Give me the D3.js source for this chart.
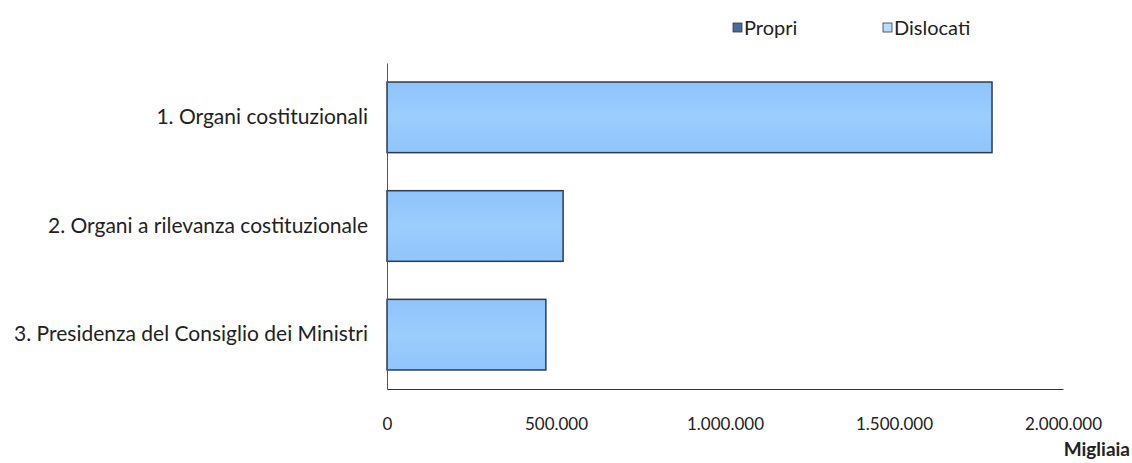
<!DOCTYPE html>
<html><head><meta charset="utf-8">
<script src="https://cdn.jsdelivr.net/npm/d3@7"></script>
<style>body{margin:0;background:#fff}svg{display:block}text{font-family:Lato,"Open Sans",sans-serif;fill:#222}</style>
</head><body><svg id="c" width="1132" height="463"></svg>
<script>
const categories = ["1. Organi costituzionali","2. Organi a rilevanza costituzionale","3. Presidenza del Consiglio dei Ministri"];
const propri = [0, 0, 0];
const dislocati = [1790000, 521000, 470000];
const seriesNames = ["Propri","Dislocati"];
const tickValues = [0, 500000, 1000000, 1500000, 2000000];
const tickLabels = ["0","500.000","1.000.000","1.500.000","2.000.000"];
const unitLabel = "Migliaia";

const svg = d3.select("#c");
const x0 = 387, x1 = 1063, yTop = 63, yBot = 389;
const x = d3.scaleLinear().domain([0, 2000000]).range([x0, x1]);
const y = d3.scaleBand().domain(categories).range([yTop, yBot]).paddingInner(0.35).paddingOuter(0.175);

const defs = svg.append("defs");
const g = defs.append("linearGradient").attr("id","bg").attr("x1","0").attr("x2","0").attr("y1","0").attr("y2","1");
g.append("stop").attr("offset","0").attr("stop-color","#8fc4fb");
g.append("stop").attr("offset","0.5").attr("stop-color","#9bcdfd");
g.append("stop").attr("offset","1").attr("stop-color","#90c5fb");

const data = categories.map((c,i)=>({c, p: propri[i], d: dislocati[i]}));

svg.append("g").selectAll("rect").data(data).join("rect")
  .attr("x", x(0)).attr("y", d=>y(d.c)).attr("width", d=>x(d.p)-x(0)).attr("height", y.bandwidth())
  .attr("fill","#4a6a9c");
svg.append("g").selectAll("rect").data(data).join("rect")
  .attr("x", d=>x(d.p)).attr("y", d=>y(d.c)).attr("width", d=>x(d.p+d.d)-x(d.p)).attr("height", y.bandwidth())
  .attr("fill","url(#bg)").attr("stroke","#2d3b4e").attr("stroke-width",1.5);

const xa = svg.append("g").attr("transform",`translate(0,${yBot})`)
  .call(d3.axisBottom(x).tickValues(tickValues).tickFormat((d,i)=>tickLabels[i]).tickSize(0).tickPadding(29));
xa.select(".domain").attr("stroke","#333").attr("stroke-width",1.2);
xa.selectAll("text").attr("font-size",17).attr("font-family","Lato,sans-serif").attr("fill","#333");

const ya = svg.append("g").attr("transform",`translate(${x0},0)`)
  .call(d3.axisLeft(y).tickSize(0).tickPadding(19));
ya.select(".domain").attr("stroke","#555").attr("stroke-width",1);
ya.selectAll("text").attr("font-size",21).attr("font-family","Lato,sans-serif").attr("fill","#222");

svg.append("text").attr("x",1130).attr("y",456).attr("text-anchor","end")
  .attr("font-size",19).attr("font-weight","bold").text(unitLabel);

const leg = [{n:seriesNames[0], c:"#4a6a9c", s:"#2d3b4e", x:733},{n:seriesNames[1], c:"#b8dcff", s:"#2d3b4e", x:883}];
const lg = svg.append("g");
leg.forEach(l=>{
  lg.append("rect").attr("x",l.x).attr("y",23).attr("width",9).attr("height",9).attr("fill",l.c).attr("stroke",l.s).attr("stroke-width",0.8);
  lg.append("text").attr("x",l.x+11).attr("y",35).attr("font-size",20).attr("fill","#333").text(l.n);
});
</script></body></html>
